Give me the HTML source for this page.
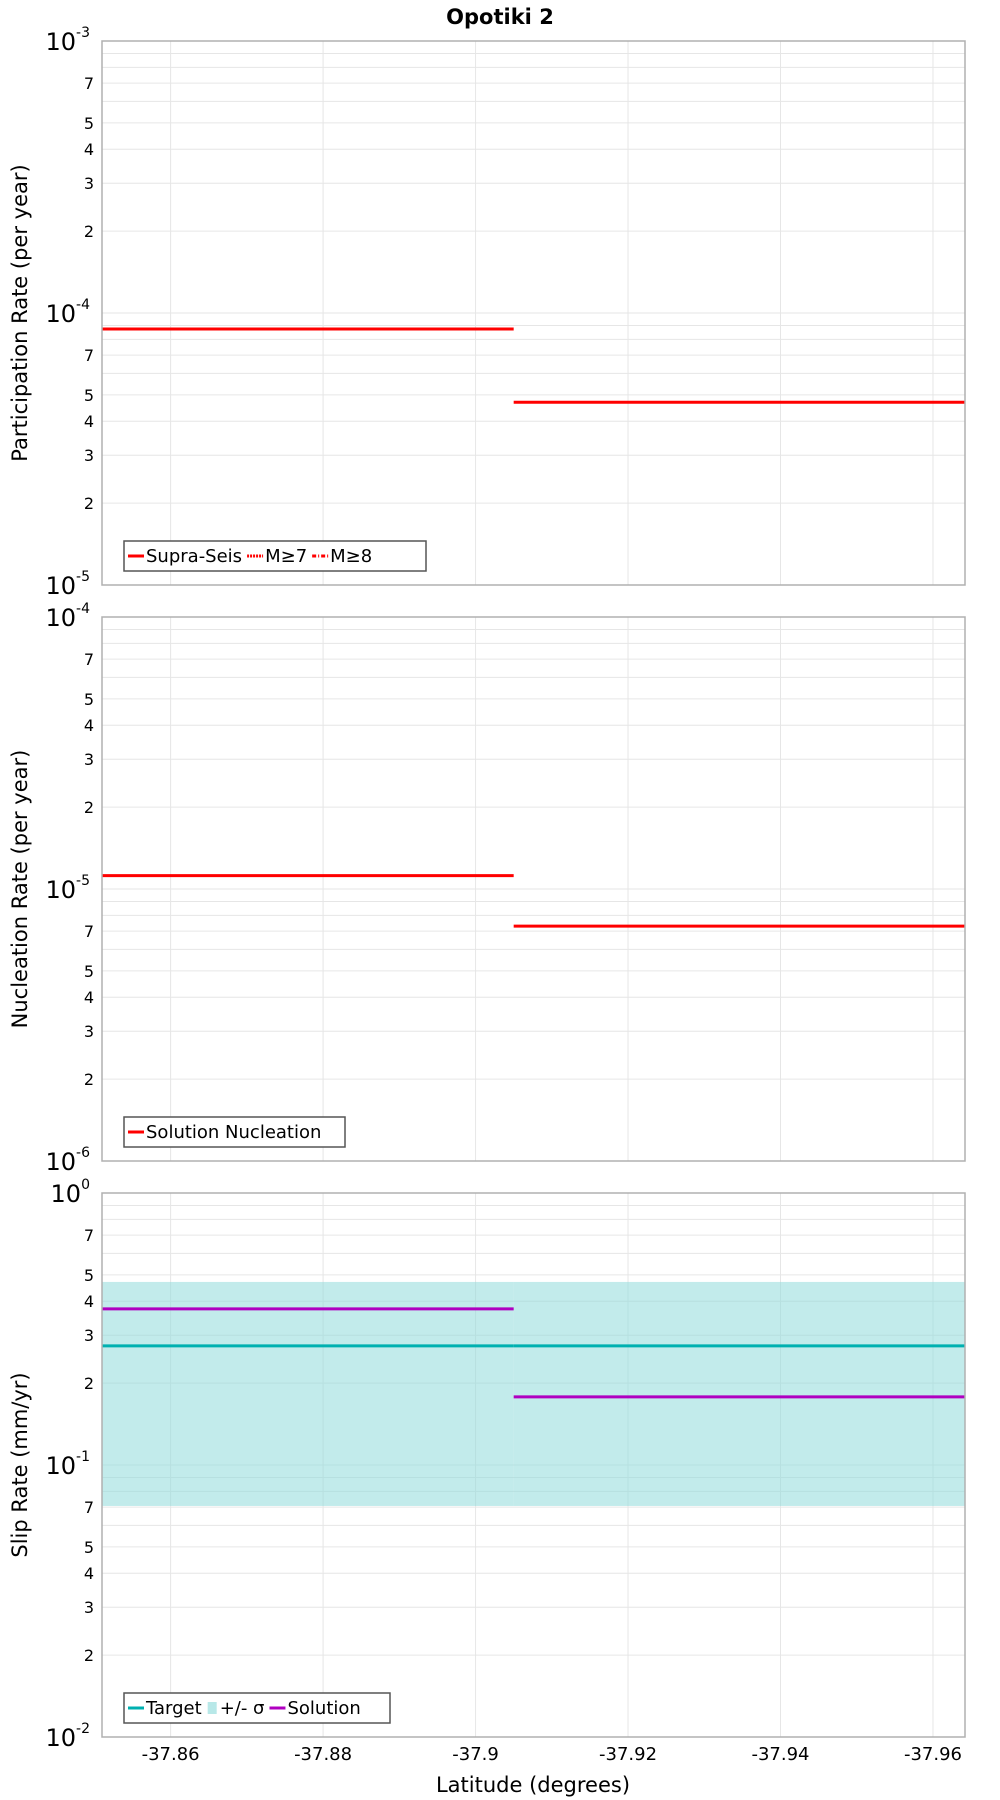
<!DOCTYPE html>
<html><head><meta charset="utf-8"><style>
html,body{margin:0;padding:0;background:#fff;}
svg{display:block;font-family:"DejaVu Sans","Liberation Sans",sans-serif;}
</style></head><body>
<svg id="chart" width="1000" height="1800" viewBox="0 0 1000 1800" xmlns="http://www.w3.org/2000/svg">
<text x="500" y="24" text-anchor="middle" font-size="21" font-weight="bold">Opotiki 2</text>
<g id="plots"></g>
<text x="533" y="1792" text-anchor="middle" font-size="21">Latitude (degrees)</text>
</svg>
<script>
const xTicks = [-37.86, -37.88, -37.9, -37.92, -37.94, -37.96];
const xTickLabels = ["-37.86", "-37.88", "-37.9", "-37.92", "-37.94", "-37.96"];
const xDomain = [-37.851, -37.9642];
const segStart = [-37.851, -37.905];
const segEnd = [-37.905, -37.9642];
const partValues = [8.73e-5, 4.7e-5];
const nuclValues = [1.12e-5, 7.3e-6];
const slipTarget = [0.274, 0.274];
const slipSigmaLow = [0.0707, 0.0707];
const slipSigmaHigh = [0.471, 0.471];
const slipSolution = [0.375, 0.178];
const panelDecades = [[-5, -3], [-6, -4], [-2, 0]];
const yTitles = ["Participation Rate (per year)", "Nucleation Rate (per year)", "Slip Rate (mm/yr)"];

const NS = "http://www.w3.org/2000/svg";
const L = 102, R = 965;
const tops = [41, 617, 1193], H = 544;
const root = document.getElementById('plots');
function mk(tag, attrs, parent) {
  const e = document.createElementNS(NS, tag);
  for (const k in attrs) e.setAttribute(k, attrs[k]);
  (parent || root).appendChild(e);
  return e;
}
function xs(v) { return L + (v - xDomain[0]) / (xDomain[1] - xDomain[0]) * (R - L); }

tops.forEach((top, p) => {
  const [d0, d1] = panelDecades[p];
  const bot = top + H;
  const ys = v => bot - (Math.log10(v) - d0) / (d1 - d0) * H;
  const g = mk('g', {});
  
  
  // grid
  xTicks.forEach(t => {
    const l = mk('line', {x1: xs(t), x2: xs(t), y1: top, y2: bot, stroke: '#e6e6e6', 'stroke-width': 1}, g);
    
    
  });
  for (let d = d0; d < d1; d++) {
    for (let m = 1; m <= 9; m++) {
      const v = m * Math.pow(10, d);
      const y = ys(v);
      if (m > 1 || d > d0) {
        const l = mk('line', {x1: L, x2: R, y1: y, y2: y, stroke: '#e6e6e6', 'stroke-width': 1}, g);
        
        
      }
      if ([2, 3, 4, 5, 7].includes(m)) {
        const t = mk('text', {x: L - 8, y: y + 6, 'text-anchor': 'end', 'font-size': 16}, g);
        t.textContent = m;
        
        
      }
    }
  }
  for (let d = d0; d <= d1; d++) {
    const y = ys(Math.pow(10, d));
    const t = mk('text', {x: L - 12, y: y + 9, 'text-anchor': 'end', 'font-size': 24}, g);
    t.textContent = '10';
    const s = mk('tspan', {dy: -13, 'font-size': 14}, t);
    s.textContent = String(d);
    
    
  }
  // data
  if (p === 2) {
    for (let i = 0; i < segStart.length; i++) {
      const r = mk('rect', {x: xs(segStart[i]), y: ys(slipSigmaHigh[i]), width: xs(segEnd[i]) - xs(segStart[i]), height: ys(slipSigmaLow[i]) - ys(slipSigmaHigh[i]), fill: '#8fdada', 'fill-opacity': 0.55}, g);
      
      
    }
    for (let i = 0; i < segStart.length; i++) {
      const l = mk('line', {x1: xs(segStart[i]), x2: xs(segEnd[i]), y1: ys(slipTarget[i]), y2: ys(slipTarget[i]), stroke: '#00b0b0', 'stroke-width': 3}, g);
      
      
    }
    for (let i = 0; i < segStart.length; i++) {
      const l = mk('line', {x1: xs(segStart[i]), x2: xs(segEnd[i]), y1: ys(slipSolution[i]), y2: ys(slipSolution[i]), stroke: '#b000c0', 'stroke-width': 3}, g);
      
      
    }
  } else {
    const vals = p === 0 ? partValues : nuclValues;
    for (let i = 0; i < segStart.length; i++) {
      const l = mk('line', {x1: xs(segStart[i]), x2: xs(segEnd[i]), y1: ys(vals[i]), y2: ys(vals[i]), stroke: '#ff0000', 'stroke-width': 3}, g);
      
      
    }
  }
  const fr = mk('rect', {x: L, y: top, width: R - L, height: H, fill: 'none', stroke: '#b0b0b0', 'stroke-width': 1.5}, g);
  
  
  // y title
  const cy = top + H / 2;
  const yt = mk('text', {x: 27, y: cy, 'text-anchor': 'middle', 'font-size': 21, transform: 'rotate(-90 27 ' + cy + ')'}, g);
  yt.textContent = yTitles[p];
  
  
  // legend
  const lg = mk('g', {}, g);
  
  
  const ly = bot - 44, lw = [302, 221, 266][p];
  mk('rect', {x: 124, y: ly, width: lw, height: 30, fill: '#fff', stroke: '#555', 'stroke-width': 1.5}, lg);
  const items = p === 0 ? [['Supra-Seis', '#f00', 'line', ''], ['M≥7', '#f00', 'line', '2,1'], ['M≥8', '#f00', 'line', '4,2,1,2']]
    : p === 1 ? [['Solution Nucleation', '#f00', 'line', '']]
    : [['Target', '#00b0b0', 'line', ''], ['+/- σ', '#b8e8e8', 'box', ''], ['Solution', '#b000c0', 'line', '']];
  let x = 128;
  items.forEach(it => {
    const e = mk('g', {}, lg);
    
    
    if (it[2] === 'line') {
      const a = {x1: x, x2: x + 16, y1: ly + 15, y2: ly + 15, stroke: it[1], 'stroke-width': 3};
      if (it[3]) a['stroke-dasharray'] = it[3];
      mk('line', a, e);
      x += 18;
    } else {
      mk('rect', {x: x + 1, y: ly + 9, width: 9, height: 12, fill: it[1]}, e);
      x += 13;
    }
    const t = mk('text', {x: x, y: ly + 21, 'font-size': 18}, e);
    t.textContent = it[0];
    x += t.getComputedTextLength() + 5;
  });
});
xTicks.forEach((t, i) => {
  const e = mk('text', {x: xs(t), y: 1760, 'text-anchor': 'middle', 'font-size': 18});
  e.textContent = xTickLabels[i];
  
  
});
</script>
</body></html>
